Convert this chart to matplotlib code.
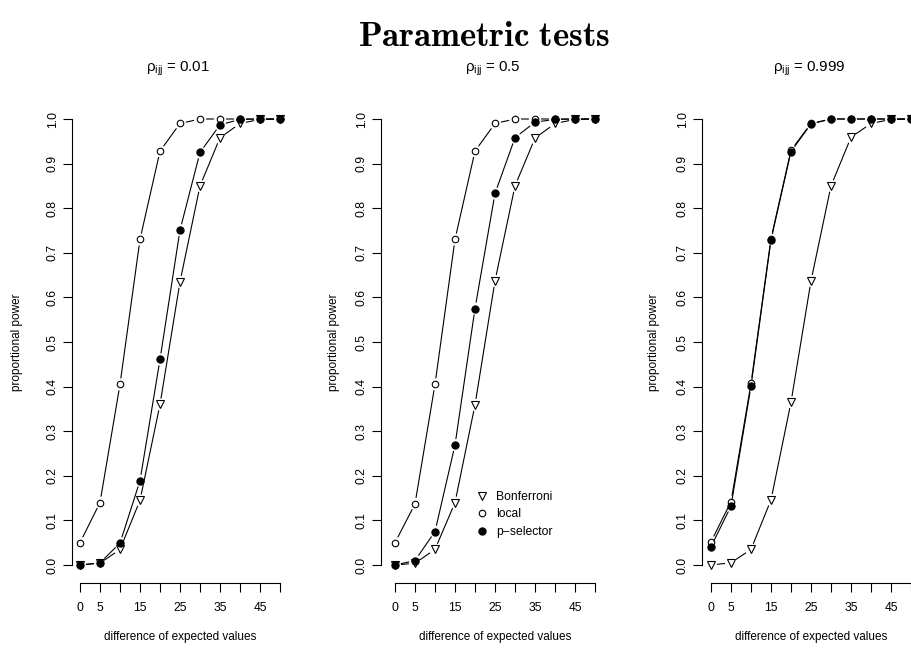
import matplotlib
matplotlib.use("Agg")
import matplotlib.pyplot as plt
from matplotlib.lines import Line2D
import numpy as np

# ---------------- data ----------------
x_vals = [0, 5, 10, 15, 20, 25, 30, 35, 40, 45, 50]
x_tick_labels = ["0", "5", "", "15", "", "25", "", "35", "", "45", ""]
y_ticks = [0.0, 0.1, 0.2, 0.3, 0.4, 0.5, 0.6, 0.7, 0.8, 0.9, 1.0]
panel_titles = ["0.01", "0.5", "0.999"]
series_names = ["Bonferroni", "local", "p\u2212selector"]

bonf_001 = [0.0, 0.004, 0.035, 0.145, 0.360, 0.635, 0.850, 0.958, 0.990, 0.999, 1.0]
local_001 = [0.050, 0.140, 0.405, 0.730, 0.928, 0.990, 1.0, 1.0, 1.0, 1.0, 1.0]
psel_001 = [0.0, 0.005, 0.049, 0.189, 0.461, 0.751, 0.925, 0.987, 0.999, 1.0, 1.0]

bonf_05 = [0.0, 0.004, 0.035, 0.140, 0.359, 0.637, 0.850, 0.957, 0.990, 0.999, 1.0]
local_05 = [0.050, 0.137, 0.405, 0.730, 0.928, 0.990, 1.0, 1.0, 1.0, 1.0, 1.0]
psel_05 = [0.0, 0.010, 0.075, 0.269, 0.575, 0.833, 0.958, 0.993, 0.999, 1.0, 1.0]

bonf_0999 = [0.0, 0.005, 0.035, 0.146, 0.365, 0.637, 0.850, 0.959, 0.990, 0.999, 1.0]
local_0999 = [0.052, 0.142, 0.407, 0.732, 0.930, 0.990, 1.0, 1.0, 1.0, 1.0, 1.0]
psel_0999 = [0.041, 0.132, 0.401, 0.729, 0.927, 0.989, 1.0, 1.0, 1.0, 1.0, 1.0]

panels = [
    (bonf_001, local_001, psel_001),
    (bonf_05, local_05, psel_05),
    (bonf_0999, local_0999, psel_0999),
]

# ---------------- style ----------------
plt.rcParams['font.family'] = ['Liberation Sans', 'DejaVu Sans']
plt.rcParams['mathtext.fontset'] = 'custom'
plt.rcParams['mathtext.rm'] = 'Liberation Sans'
plt.rcParams['mathtext.it'] = 'Liberation Sans:italic'
plt.rcParams['mathtext.bf'] = 'Liberation Sans:bold'

W, H = 911, 650
DPI = 100
fig = plt.figure(figsize=(W / DPI, H / DPI), dpi=DPI)

def fx(px):
    return px / W

def fy(py):
    return 1 - py / H

# axes geometry in pixels (left spine, x of value 0)
left_px = [72, 381, 702]
x0_px = [80, 395, 711]
ppu = 4.0  # pixels per x unit
y1_px, y0_px = 119.0, 565.0
ypad = 0.04
yppu = y0_px - y1_px
top_px = y1_px - ypad * yppu
bot_px = y0_px + ypad * yppu
xmax = 52

GAP_PT = 4.6
FS = 8.5
markers = [
    dict(marker='v', ms=5.6, mfc='none', mec='black', mew=0.8),
    dict(marker='o', ms=4.7, mfc='none', mec='black', mew=0.8),
    dict(marker='o', ms=5.2, mfc='black', mec='black', mew=0.8),
]

ylab_x = [17, 334, 654]
for i, (lp, x0p) in enumerate(zip(left_px, x0_px)):
    xmin = -(x0p - lp) / ppu
    right_px = x0p + xmax * ppu
    ax = fig.add_axes([fx(lp), fy(bot_px), (right_px - lp) / W, (bot_px - top_px) / H])
    ax.set_xlim(xmin, xmax)
    ax.set_ylim(-ypad, 1 + ypad)
    ax.patch.set_visible(False)
    for s in ['top', 'right']:
        ax.spines[s].set_visible(False)
    ax.spines['left'].set_bounds(0, 1)
    ax.spines['bottom'].set_bounds(0, 50)
    for s in ['left', 'bottom']:
        ax.spines[s].set_linewidth(0.8)
    ax.set_xticks(x_vals)
    ax.set_xticklabels(x_tick_labels)
    ax.set_yticks(y_ticks)
    ax.set_yticklabels(["%.1f" % v for v in y_ticks], rotation=90, va='center')
    ax.tick_params(axis='both', length=6.5, width=0.8, labelsize=FS + 0.2)
    ax.tick_params(axis='x', pad=7.0)
    ax.tick_params(axis='y', pad=3.0)

    trans = ax.transData
    gap_px = GAP_PT * DPI / 72.0
    for ys, mk in zip(panels[i], markers):
        pts = trans.transform(np.column_stack([x_vals, ys]))
        for k in range(len(x_vals) - 1):
            d = np.hypot(*(pts[k + 1] - pts[k]))
            if d > 2 * gap_px + 0.5:
                ax.annotate('', xy=(x_vals[k + 1], ys[k + 1]), xytext=(x_vals[k], ys[k]),
                            xycoords='data', textcoords='data', annotation_clip=False,
                            arrowprops=dict(arrowstyle='-', shrinkA=GAP_PT, shrinkB=GAP_PT,
                                            lw=0.8, color='black'))
        ax.plot(x_vals, ys, linestyle='none', clip_on=False, **mk)

    # titles
    cx = x0p + 25 * ppu
    fig.text(fx(cx - 2), fy(69), "\u03c1$_{\\mathrm{ijj}}$ = " + panel_titles[i],
             ha='center', va='center', fontsize=10.8, math_fontfamily='custom')
    fig.text(fx(cx), fy(637), "difference of expected values", ha='center', va='center',
             fontsize=FS)
    fig.text(fx(ylab_x[i]), fy((y0_px + y1_px) / 2), "proportional power", rotation=90,
             ha='center', va='center', fontsize=FS)

    if i == 1:
        handles = [Line2D([], [], linestyle='none', **mk) for mk in markers]
        leg = ax.legend(handles, series_names, frameon=False, fontsize=FS + 0.2,
                        loc='upper left', bbox_to_anchor=(fx(477), fy(491)),
                        bbox_transform=fig.transFigure, handlelength=0.9,
                        handletextpad=0.7, labelspacing=0.45, borderpad=0, borderaxespad=0)

fig.text(fx(484), fy(36), r"$\mathbf{Parametric\ tests}$", ha='center', va='center',
         fontsize=25, math_fontfamily='cm')

fig.savefig("out.png", dpi=DPI)
